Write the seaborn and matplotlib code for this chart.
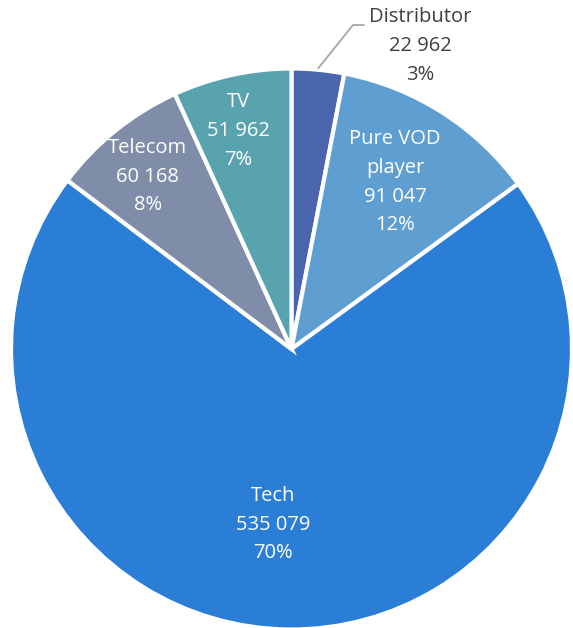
import numpy as np
import seaborn as sns
import matplotlib.pyplot as plt

# 資料
categories = ['Distributor', 'Pure VOD\nplayer', 'Tech', 'Telecom', 'TV']
values = [22962, 91047, 535079, 60168, 51962]
colors = ['#4A65AE', '#5F9ED1', '#2A7ED6', '#7F8DA9', '#59A3AE']

sns.set_theme(style='white')
plt.rcParams['font.family'] = ['Open Sans', 'DejaVu Sans']

W, H = 573, 628
cx, cy, R = 291.5, 349, 280.5

fig = plt.figure(figsize=(W / 100, H / 100), dpi=100)
ax = fig.add_axes([0, 0, 1, 1])

wedges, _ = ax.pie(values, colors=colors, startangle=90, counterclock=False,
                   radius=1, wedgeprops=dict(edgecolor='white', linewidth=3))

# 軸範圍 (pie 之後設定)
ax.set_xlim(-cx / R, (W - cx) / R)
ax.set_ylim(-(H - cy) / R, cy / R)
ax.set_aspect('equal')
ax.axis('off')

total = sum(values)
# 標籤位置 (半徑, 角度偏移)
label_r = [1.173, 0.70, 0.63, 0.80, 0.80]
label_da = [-17.6, 0.5, -5.5, 1, 1.5]

for i, w in enumerate(wedges):
    mid = (w.theta1 + w.theta2) / 2
    ang = np.deg2rad(mid + label_da[i])
    x, y = label_r[i] * np.cos(ang), label_r[i] * np.sin(ang)
    pct = round(values[i] / total * 100)
    txt = f"{categories[i]}\n{values[i]:,}".replace(',', ' ') + f"\n{pct}%"
    col = 'white' if i > 0 else '#404040'
    ax.text(x, y, txt, ha='center', va='center', fontsize=14.5,
            color=col, linespacing=1.58)
    if i == 0:
        a0 = np.deg2rad(mid)
        x0, y0 = 1.005 * np.cos(a0), 1.005 * np.sin(a0)
        x1, y1 = (353 - cx) / R, (cy - 25) / R
        x2 = (364 - cx) / R
        ax.plot([x0, x1, x2], [y0, y1, y1], color='#A6A6A6', lw=1.3)

fig.savefig('out.png', dpi=100, facecolor='white')
